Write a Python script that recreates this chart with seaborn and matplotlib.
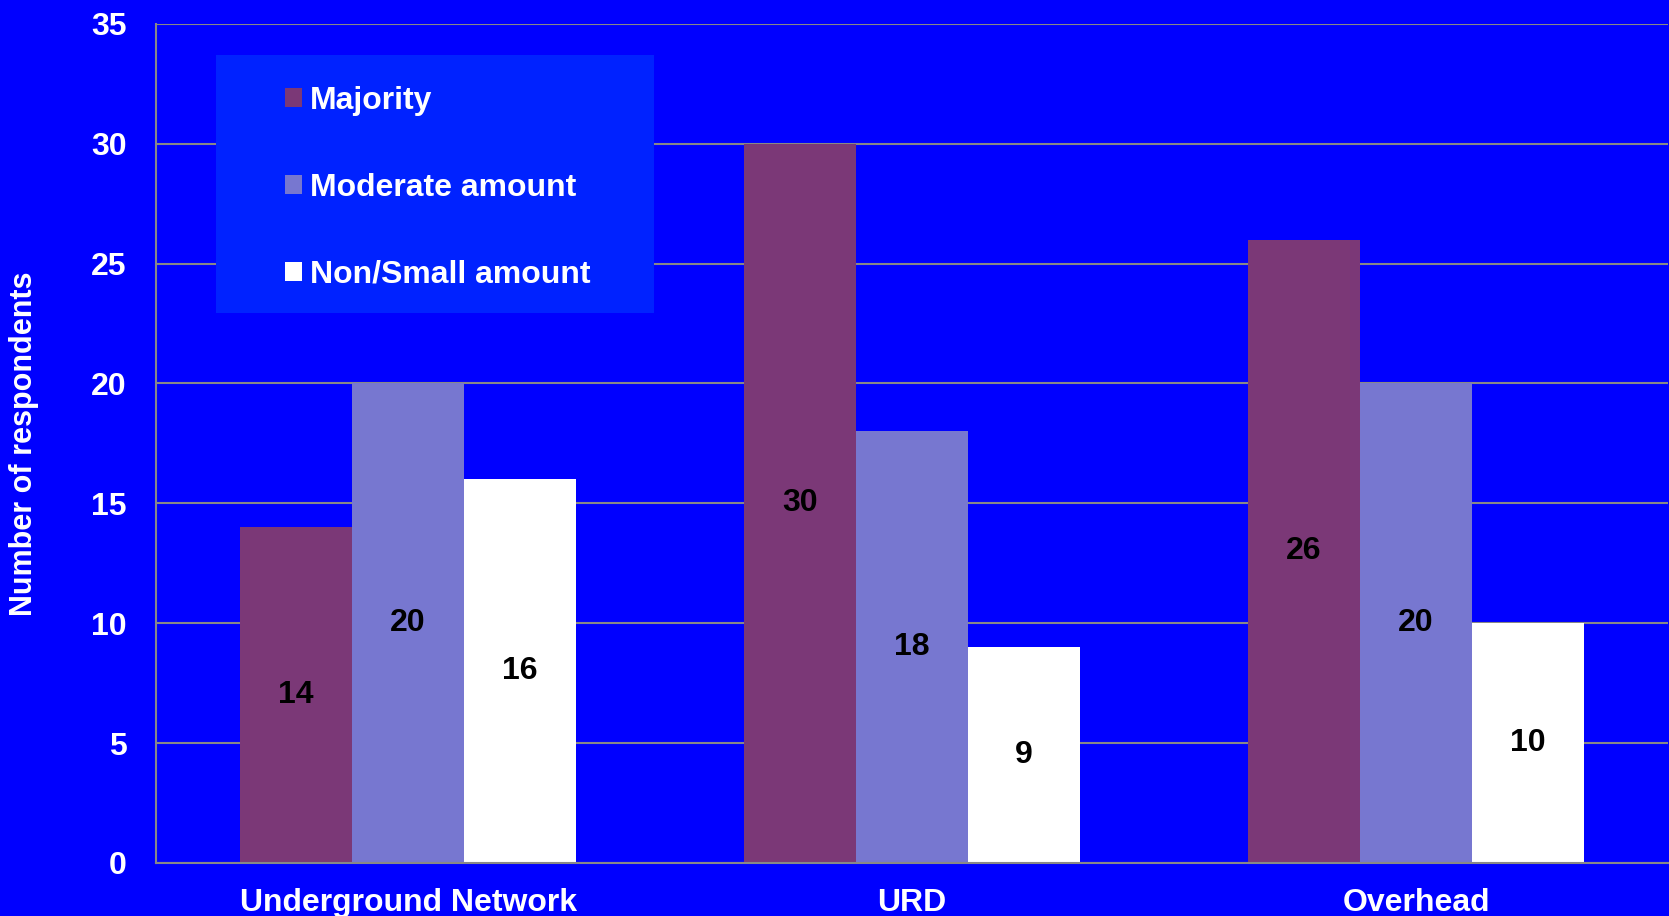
import numpy as np
import pandas as pd
import seaborn as sns
import matplotlib.pyplot as plt
from matplotlib.patches import Patch, Rectangle

# data
categories = ["Underground Network", "URD", "Overhead"]
series_names = ["Majority", "Moderate amount", "Non/Small amount"]
majority = [14, 30, 26]
moderate = [20, 18, 20]
small = [16, 9, 10]
colors = ["#7B3877", "#7777D0", "#FFFFFF"]
yticks = [0, 5, 10, 15, 20, 25, 30, 35]

df = pd.DataFrame({
    "category": categories * 3,
    "amount": [series_names[0]] * 3 + [series_names[1]] * 3 + [series_names[2]] * 3,
    "count": majority + moderate + small,
})

sns.set_style("white")
plt.rcParams["font.family"] = ["Liberation Sans", "DejaVu Sans"]
plt.rcParams["font.weight"] = "bold"

W, H = 1669, 916
fig = plt.figure(figsize=(W / 100, H / 100), dpi=100, facecolor="#0000FF")
ax = fig.add_axes([156 / W, 1 - 863 / H, (1668 - 156) / W, (863 - 23.7) / H])
ax.set_facecolor("#0000FF")

sns.barplot(data=df, x="category", y="count", hue="amount", palette=colors,
            width=0.667, saturation=1, linewidth=0, legend=False, ax=ax, zorder=2)

for c in ax.containers:
    ax.bar_label(c, label_type="center", fontsize=23, fontweight="bold", color="black")

ax.set_xlim(-0.5, 2.5)
ax.set_ylim(0, 35)
ax.set_yticks(yticks)
ax.yaxis.grid(True, color="#888888", linewidth=1.5, zorder=0)
ax.set_axisbelow(True)

for s in ["top", "right"]:
    ax.spines[s].set_visible(False)
for s in ["left", "bottom"]:
    ax.spines[s].set_color("#888888")
    ax.spines[s].set_linewidth(1.5)

ax.tick_params(axis="y", colors="#888888", length=7, width=1.5, pad=14,
               labelcolor="white", labelsize=23)
ax.set_xticks(np.arange(len(categories)))
ax.set_xticklabels(categories)
ax.set_xticks([-0.5, 0.5, 1.5, 2.5], minor=True)
ax.tick_params(axis="x", which="major", length=0, pad=18, labelcolor="white", labelsize=23)
ax.tick_params(axis="x", which="minor", length=7, width=1.5, color="#888888")
for t in ax.get_xticklabels() + ax.get_yticklabels():
    t.set_fontweight("bold")

ax.set_xlabel("")
ax.set_ylabel("Number of respondents", color="white", fontsize=22, fontweight="bold")
ax.yaxis.set_label_coords((39 - 156) / (1668 - 156), 0.5)

# legend background box
fig.patches.append(Rectangle((216 / W, 1 - 313 / H), (654 - 216) / W, (313 - 55) / H,
                             transform=fig.transFigure, facecolor="#0022FF",
                             edgecolor="none", zorder=3))
handles = [Patch(facecolor=c, edgecolor="none") for c in colors]
leg = fig.legend(handles, series_names, loc="upper left",
                 bbox_to_anchor=(285 / W, 1 - 86 / H), frameon=False,
                 fontsize=23, labelcolor="white", handlelength=0.53,
                 handleheight=0.53, handletextpad=0.25, labelspacing=1.78,
                 borderpad=0, borderaxespad=0)
leg.set_zorder(4)
for t in leg.get_texts():
    t.set_fontweight("bold")

fig.savefig("out.png", dpi=100, facecolor=fig.get_facecolor())
